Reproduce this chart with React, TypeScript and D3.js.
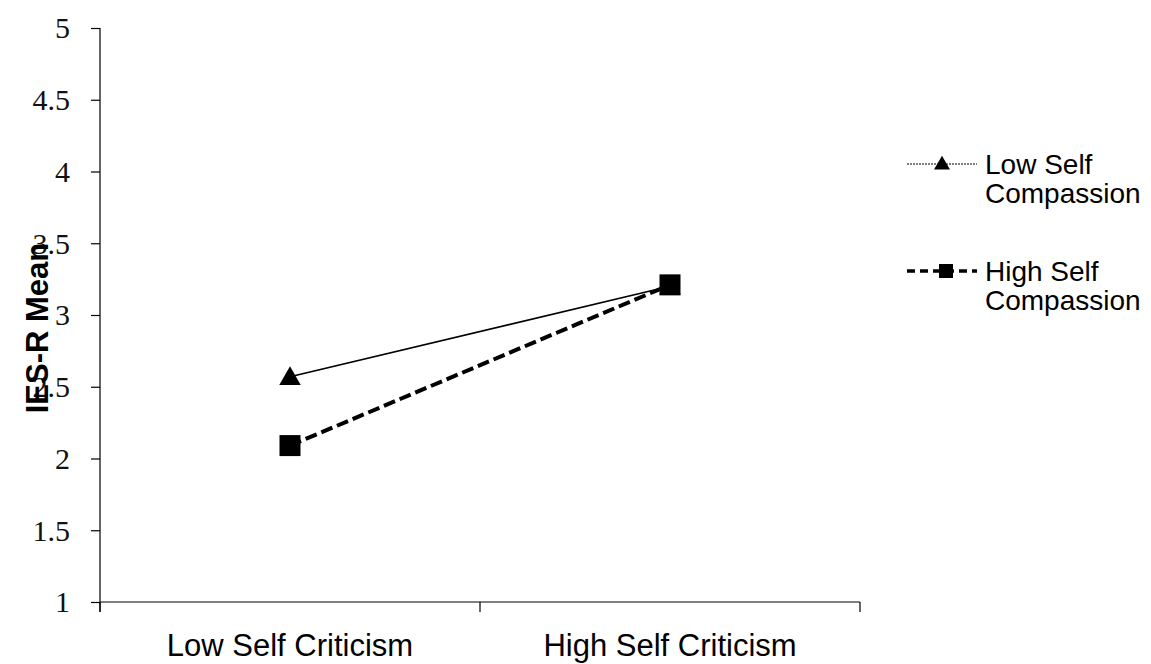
import React, { useEffect, useRef } from "react";
import * as d3 from "d3";

const categories = ["Low Self Criticism", "High Self Criticism"];
const seriesNames = ["Low Self Compassion", "High Self Compassion"];
const lowCompassion = [2.57, 3.2];
const highCompassion = [2.09, 3.21];
const yTicks = [1, 1.5, 2, 2.5, 3, 3.5, 4, 4.5, 5];
const yTitle = "IES-R Mean";

const W = 1151;
const H = 664;

export default function App() {
  const ref = useRef<SVGSVGElement | null>(null);

  useEffect(() => {
    const svg = d3.select(ref.current);
    svg.selectAll("*").remove();

    const x = d3.scaleBand<string>().domain(categories).range([100, 860]).padding(0);
    const y = d3.scaleLinear().domain([1, 5]).range([602, 28]);
    const cx = (c: string) => (x(c) as number) + x.bandwidth() / 2;

    // y axis
    const yAxis = svg.append("g").attr("transform", "translate(100,0)")
      .attr("font-family", "'Liberation Serif', 'Times New Roman', serif")
      .attr("font-size", 30)
      .call(d3.axisLeft(y).tickValues(yTicks).tickSize(9).tickPadding(21)
        .tickFormat((d) => String(d)));
    yAxis.attr("font-family", "'Liberation Serif', 'Times New Roman', serif").attr("font-size", 30);
    yAxis.select(".domain").remove();
    yAxis.selectAll(".tick line").attr("stroke", "#000").attr("stroke-width", 1.2);
    yAxis.selectAll(".tick text")
      .style("font-family", "'Liberation Serif', 'Times New Roman', serif")
      .style("font-size", "30px").attr("fill", "#111").attr("dy", "0.33em");
    svg.append("line").attr("x1", 100).attr("x2", 100).attr("y1", 28).attr("y2", 612)
      .attr("stroke", "#000").attr("stroke-width", 1.2);

    // x axis
    svg.append("line").attr("x1", 100).attr("x2", 860).attr("y1", 602).attr("y2", 602)
      .attr("stroke", "#000").attr("stroke-width", 1.2);
    const bounds = [...categories.map((c) => x(c) as number), 860];
    svg.append("g").selectAll("line").data(bounds).join("line")
      .attr("x1", (d) => d).attr("x2", (d) => d).attr("y1", 602).attr("y2", 612)
      .attr("stroke", "#000").attr("stroke-width", 1.2);
    svg.append("g").selectAll("text").data(categories).join("text")
      .attr("x", (d) => cx(d)).attr("y", 656).attr("text-anchor", "middle")
      .attr("font-family", "'Liberation Sans', Arial, sans-serif")
      .attr("font-size", 31).attr("fill", "#000").text((d) => d);

    // y title
    svg.append("text")
      .attr("transform", "translate(48,328) rotate(-90)")
      .attr("text-anchor", "middle")
      .attr("font-family", "'Liberation Sans', Arial, sans-serif")
      .attr("font-weight", "bold").attr("font-size", 31).attr("fill", "#000")
      .text(yTitle);

    const line = d3.line<number>().x((_, i) => cx(categories[i])).y((d) => y(d));

    const tri = d3.symbol().type(d3.symbolTriangle).size(200);
    const sq = (s: number) => `M${-s / 2},${-s / 2}h${s}v${s}h${-s}Z`;

    // Low self compassion: solid thin
    svg.append("path").attr("d", line(lowCompassion)).attr("fill", "none")
      .attr("stroke", "#000").attr("stroke-width", 1.6);
    svg.append("g").selectAll("path").data(lowCompassion).join("path")
      .attr("transform", (d, i) => `translate(${cx(categories[i])},${y(d) + 2})`)
      .attr("d", tri()).attr("fill", "#000");

    // High self compassion: thick dashed
    svg.append("path").attr("d", line(highCompassion)).attr("fill", "none")
      .attr("stroke", "#000").attr("stroke-width", 4).attr("stroke-dasharray", "12,5");
    svg.append("g").selectAll("path").data(highCompassion).join("path")
      .attr("transform", (d, i) => `translate(${cx(categories[i])},${y(d)})`)
      .attr("d", sq(21)).attr("fill", "#000");

    // Legend
    const leg = svg.append("g");
    const legY = [164, 271];
    const textFont = "'Liberation Sans', Arial, sans-serif";
    seriesNames.forEach((name, i) => {
      const g = leg.append("g").attr("transform", `translate(0,${legY[i]})`);
      if (i === 0) {
        g.append("line").attr("x1", 907).attr("x2", 977).attr("y1", 0).attr("y2", 0)
          .attr("stroke", "#000").attr("stroke-width", 1).attr("stroke-dasharray", "2,1");
        g.append("path").attr("transform", "translate(942,1)")
          .attr("d", d3.symbol().type(d3.symbolTriangle).size(110)()).attr("fill", "#000");
      } else {
        g.append("line").attr("x1", 907).attr("x2", 977).attr("y1", 0).attr("y2", 0)
          .attr("stroke", "#000").attr("stroke-width", 3.5).attr("stroke-dasharray", "8,5");
        g.append("path").attr("transform", "translate(946,0)").attr("d", sq(14)).attr("fill", "#000");
      }
      const words = name.split(" ");
      const l1 = words.slice(0, 2).join(" ");
      const l2 = words.slice(2).join(" ");
      const t = g.append("text").attr("font-family", textFont).attr("font-size", 28).attr("fill", "#000");
      t.append("tspan").attr("x", 985).attr("y", 10).text(l1);
      t.append("tspan").attr("x", 985).attr("y", 39).text(l2);
    });
  }, []);

  return (
    <svg ref={ref} width={W} height={H}
      style={{ position: "absolute", left: 0, top: 0, background: "#fff" }} />
  );
}
